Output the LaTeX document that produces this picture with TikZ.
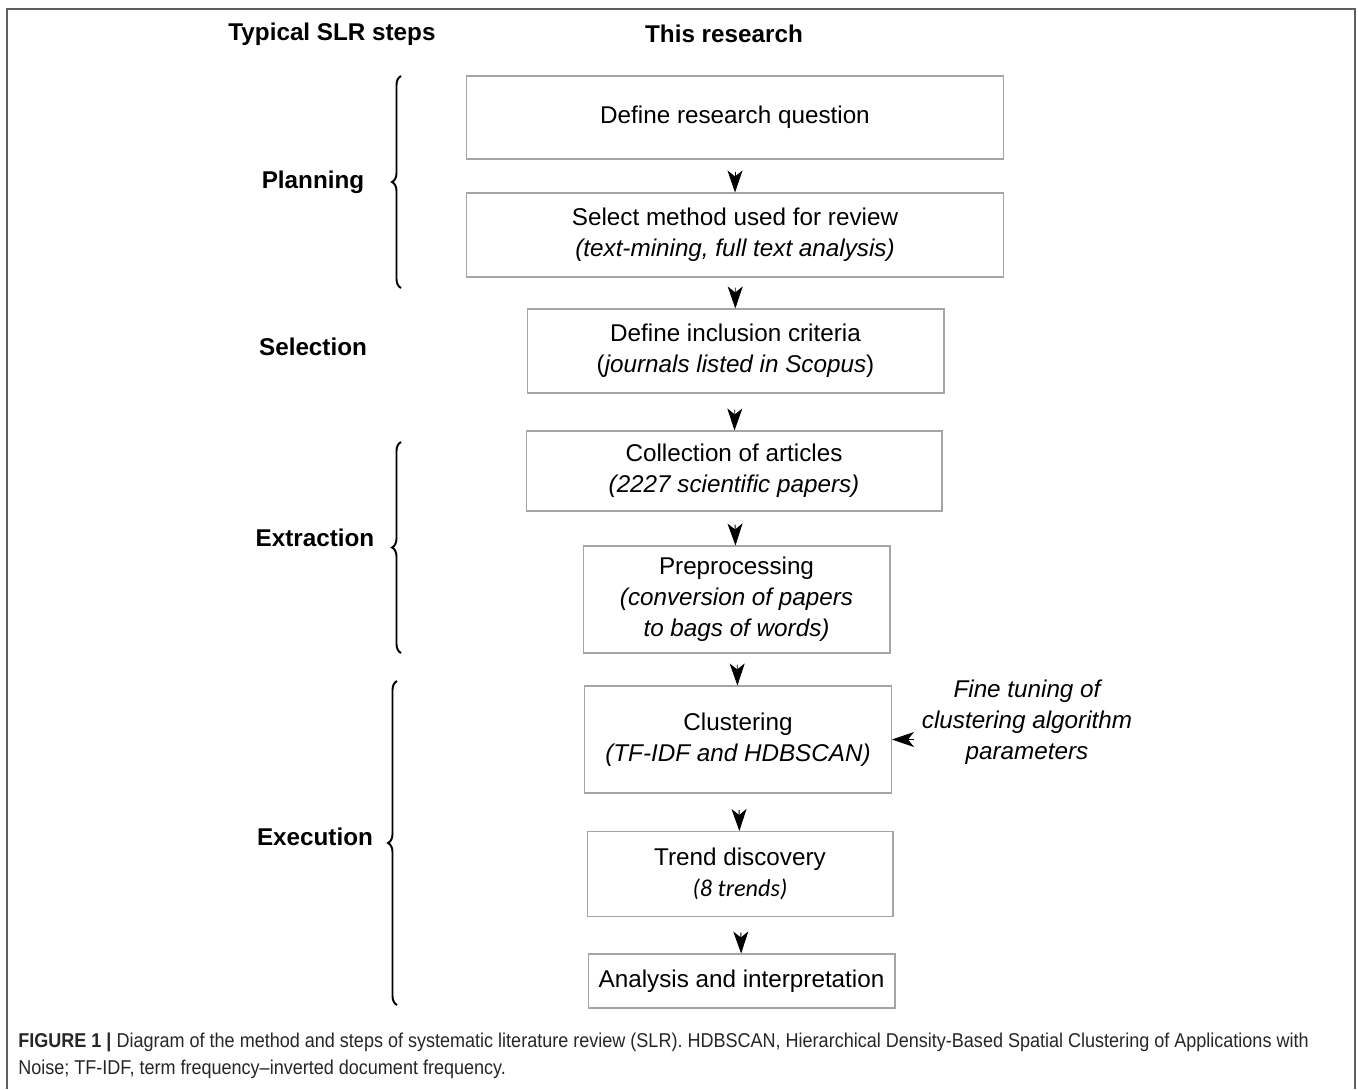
\documentclass[tikz,border=0pt]{standalone}
\usepackage{fontspec}
\setmainfont{Liberation Sans}
\newfontfamily\trendfont{Carlito}
\newfontfamily\capfont{Liberation Sans}[FakeStretch=0.90]
\usetikzlibrary{arrows.meta,decorations.pathreplacing}
\definecolor{boxgray}{RGB}{165,165,165}
\definecolor{framegray}{RGB}{95,95,95}
\newcommand\boxfont{\fontsize{13.8}{17.6}\selectfont}
\begin{document}
\begin{tikzpicture}[x=0.02cm, y=-0.02cm,
    stepbox/.style={draw=boxgray, line width=0.6pt, align=center, inner sep=0pt, font=\boxfont},
    phaselabel/.style={inner sep=0pt, font=\boxfont\bfseries},
    headarrow/.style={-{Stealth[length=0.44cm, width=0.3cm, inset=0.12cm]}, line width=0.5pt},
    sbrace/.style={decorate, decoration={brace, amplitude=0.18cm}, line width=1.1pt}]
  \useasboundingbox (0,0) rectangle (1358,1089);
  \draw[framegray, line width=1pt] (7,1089) -- (7,9) -- (1355,9) -- (1355,1089);

  \node[phaselabel] (hslr) at (332,34) {Typical SLR steps};
  \node[phaselabel] (hres) at (724,34) {This research};

  \node[stepbox, minimum width=10.76cm, minimum height=1.66cm] (q1) at (735,117.5) {Define research question};
  \node[stepbox, minimum width=10.76cm, minimum height=1.68cm] (q2) at (735,235) {Select method used for review\\\textit{(text-mining, full text analysis)}};
  \node[stepbox, minimum width=8.34cm, minimum height=1.68cm] (q3) at (735.5,351) {Define inclusion criteria\\(\textit{journals listed in Scopus})};
  \node[stepbox, minimum width=8.32cm, minimum height=1.60cm] (q4) at (734,471) {Collection of articles\\\textit{(2227 scientific papers)}};
  \node[stepbox, minimum width=6.14cm, minimum height=2.14cm] (q5) at (736.5,599.5) {Preprocessing\\\textit{(conversion of papers}\\\textit{to bags of words)}};
  \node[stepbox, minimum width=6.14cm, minimum height=2.14cm] (q6) at (738,739.5) {Clustering\\\textit{(TF-IDF and HDBSCAN)}};
  \node[stepbox, minimum width=6.12cm, minimum height=1.70cm] (q7) at (740,874) {Trend discovery\\{\trendfont\itshape (8 trends)}};
  \node[stepbox, minimum width=6.14cm, minimum height=1.08cm] (q8) at (741.5,981) {Analysis and interpretation};

  \node[align=center, inner sep=0pt, font=\boxfont\itshape] (tune) at (1027,722) {Fine tuning of\\clustering algorithm\\parameters};

  \draw[headarrow, shorten <=0.24cm] (q1) -- (q2);
  \draw[headarrow, shorten <=0.20cm] (q2) -- (q3);
  \draw[headarrow, shorten <=0.32cm] (q3) -- (q4);
  \draw[headarrow, shorten <=0.26cm] (q4) -- (q5);
  \draw[headarrow, shorten <=0.22cm] (q5) -- (q6);
  \draw[headarrow, shorten <=0.33cm] (q6) -- (q7);
  \draw[headarrow, shorten <=0.31cm] (q7) -- (q8);
  \draw[headarrow, shorten <=0.16cm] (tune.west |- q6.east) -- (q6.east);

  \draw[sbrace] (401,288) -- (401,76);
  \draw[sbrace] (401,653) -- (401,442);
  \draw[sbrace] (397,1005) -- (397,681);
  \node[phaselabel] (plan) at (313,182) {Planning};
  \node[phaselabel] (sel) at (313,347) {Selection};
  \node[phaselabel] (extr) at (315,538) {Extraction};
  \node[phaselabel] (exec) at (315,837) {Execution};

  \node[anchor=north west, inner sep=0pt, align=left, text=black!85, font=\capfont\fontsize{11.4}{15.4}\selectfont] (cap) at (18,1033) {\textbf{FIGURE 1 |} Diagram of the method and steps of systematic literature review (SLR). HDBSCAN, Hierarchical Density-Based Spatial Clustering of Applications with\\Noise; TF-IDF, term frequency–inverted document frequency.};
\end{tikzpicture}
\end{document}
